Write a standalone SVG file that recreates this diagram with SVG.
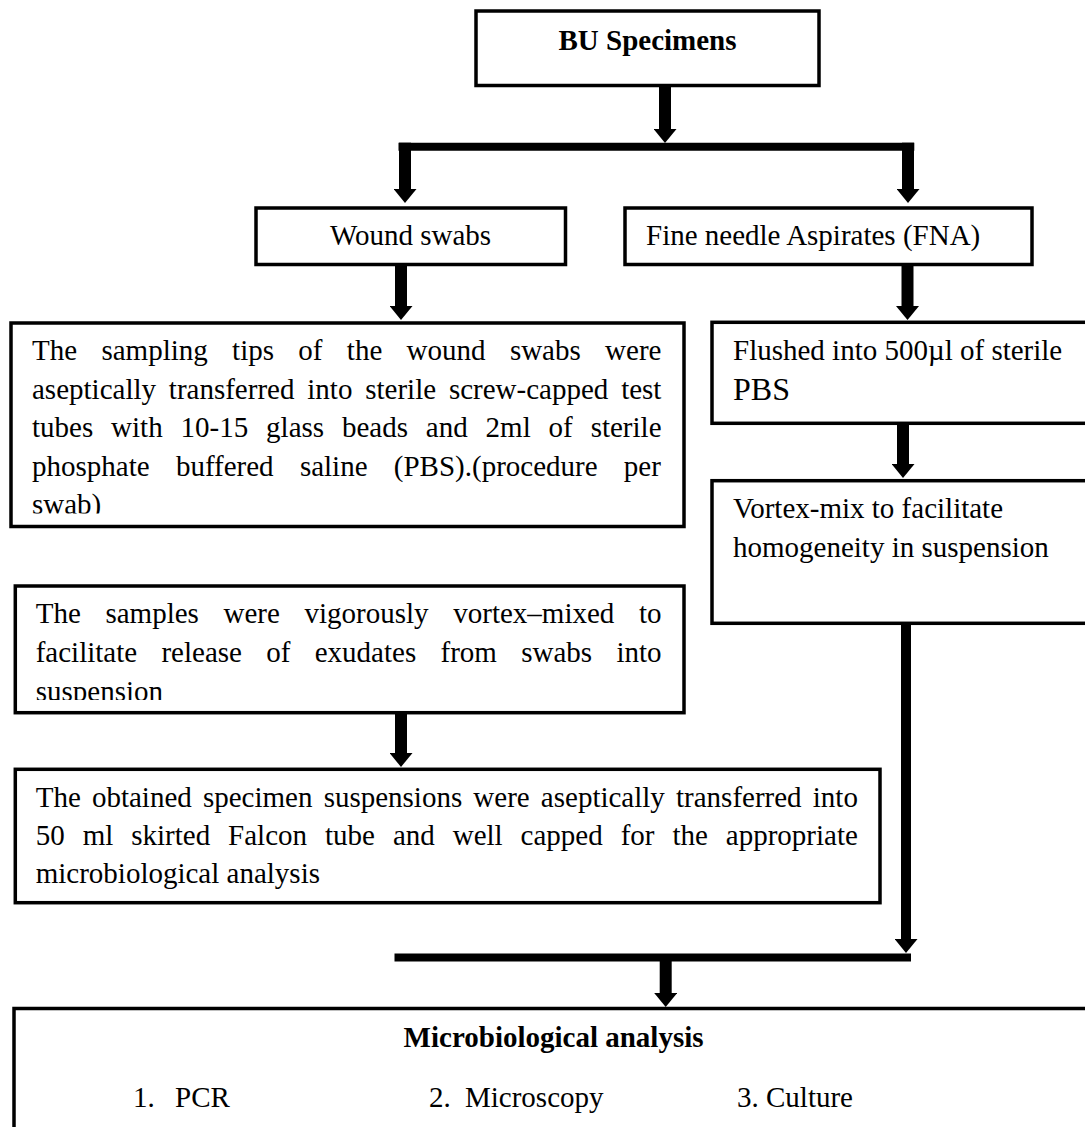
<svg xmlns="http://www.w3.org/2000/svg" width="1085" height="1127" viewBox="0 0 1085 1127">
<style>
.box{fill:#fff;stroke:#000;stroke-width:3.5}
.t{font-family:"Liberation Serif","Times New Roman",serif;font-size:29px;fill:#000}
.b{font-weight:bold}
.sh{stroke:#000;stroke-width:12;fill:none}
.bar{stroke:#000;stroke-width:8;fill:none}
</style>
<defs>
<marker id="ah" viewBox="0 0 14 23" refX="0" refY="11.5" markerWidth="14" markerHeight="23" markerUnits="userSpaceOnUse" orient="auto">
<path d="M0,0 L14,11.5 L0,23 Z" fill="#000"/>
</marker>
<clipPath id="c1"><rect x="0" y="300" width="700" height="213.5"/></clipPath>
<clipPath id="c2"><rect x="0" y="580" width="700" height="120"/></clipPath>
</defs>
<rect width="1085" height="1127" fill="#fff"/>

<g id="connectors">
<line class="sh" x1="665" y1="86" x2="665" y2="129" marker-end="url(#ah)"/>
<line class="bar" x1="398.5" y1="146.7" x2="914.3" y2="146.7"/>
<line class="sh" x1="405" y1="142.7" x2="405" y2="189" marker-end="url(#ah)"/>
<line class="sh" x1="908" y1="142.7" x2="908" y2="189" marker-end="url(#ah)"/>
<line class="sh" x1="401" y1="265" x2="401" y2="306" marker-end="url(#ah)"/>
<line class="sh" x1="907.5" y1="265" x2="907.5" y2="306" marker-end="url(#ah)"/>
<line class="sh" x1="903" y1="424" x2="903" y2="464" marker-end="url(#ah)"/>
<line class="sh" x1="401" y1="713" x2="401" y2="753" marker-end="url(#ah)"/>
<line class="sh" style="stroke-width:10" x1="906" y1="624" x2="906" y2="939" marker-end="url(#ah)"/>
<line class="bar" x1="394.5" y1="957.5" x2="911" y2="957.5"/>
<line class="sh" x1="665.7" y1="961" x2="665.7" y2="993" marker-end="url(#ah)"/>
</g>

<g id="bu-specimens">
<rect class="box" x="476" y="11" width="343" height="74.5"/>
<text class="t b" x="647.5" y="50" text-anchor="middle">BU Specimens</text>
</g>

<g id="wound-swabs">
<rect class="box" x="256" y="208" width="309.5" height="56.5"/>
<text class="t" x="410.5" y="245" text-anchor="middle">Wound swabs</text>
</g>

<g id="fna">
<rect class="box" x="625" y="208" width="407" height="56.5"/>
<text class="t" x="646" y="245">Fine needle Aspirates (FNA)</text>
</g>

<g id="sampling-tips">
<rect class="box" x="11" y="323" width="673" height="203.5"/>
<g clip-path="url(#c1)">
<text class="t" x="32" y="360" word-spacing="17.09">The sampling tips of the wound swabs were</text>
<text class="t" x="32" y="398.5" word-spacing="5.59">aseptically transferred into sterile screw-capped test</text>
<text class="t" x="32" y="437" word-spacing="10.63">tubes with 10-15 glass beads and 2ml of sterile</text>
<text class="t" x="32" y="475.5" word-spacing="19.05">phosphate buffered saline (PBS).(procedure per</text>
<text class="t" x="32" y="514">swab)</text>
</g>
</g>

<g id="flushed">
<rect class="box" x="712" y="322.3" width="390" height="101"/>
<text class="t" x="733" y="360">Flushed into 500µl of sterile</text>
<text class="t" x="733" y="400" style="font-size:32px">PBS</text>
</g>

<g id="vortex-fna">
<rect class="box" x="712" y="480.7" width="390" height="142.6"/>
<text class="t" x="733" y="518">Vortex-mix to facilitate</text>
<text class="t" x="733" y="557">homogeneity in suspension</text>
</g>

<g id="vortex-swabs">
<rect class="box" x="15.3" y="586" width="668.7" height="126.7"/>
<g clip-path="url(#c2)">
<text class="t" x="35.7" y="623.3" word-spacing="17.41">The samples were vigorously vortex–mixed to</text>
<text class="t" x="35.7" y="662.3" word-spacing="17.07">facilitate release of exudates from swabs into</text>
<text class="t" x="35.7" y="701.3">suspension</text>
</g>
</g>

<g id="suspensions">
<rect class="box" x="15.3" y="769.3" width="864.7" height="133.4"/>
<text class="t" x="35.7" y="806.7" word-spacing="3.91">The obtained specimen suspensions were aseptically transferred into</text>
<text class="t" x="35.7" y="845" word-spacing="10.71">50 ml skirted Falcon tube and well capped for the appropriate</text>
<text class="t" x="35.7" y="883.3">microbiological analysis</text>
</g>

<g id="microbiological-analysis">
<rect class="box" x="14" y="1008.5" width="1090" height="200"/>
<text class="t b" x="553.6" y="1046.7" text-anchor="middle">Microbiological analysis</text>
<text class="t" x="133" y="1106.7">1.</text>
<text class="t" x="175" y="1106.7">PCR</text>
<text class="t" x="429" y="1106.7">2.</text>
<text class="t" x="465" y="1106.7">Microscopy</text>
<text class="t" x="737" y="1106.7">3. Culture</text>
</g>
</svg>
